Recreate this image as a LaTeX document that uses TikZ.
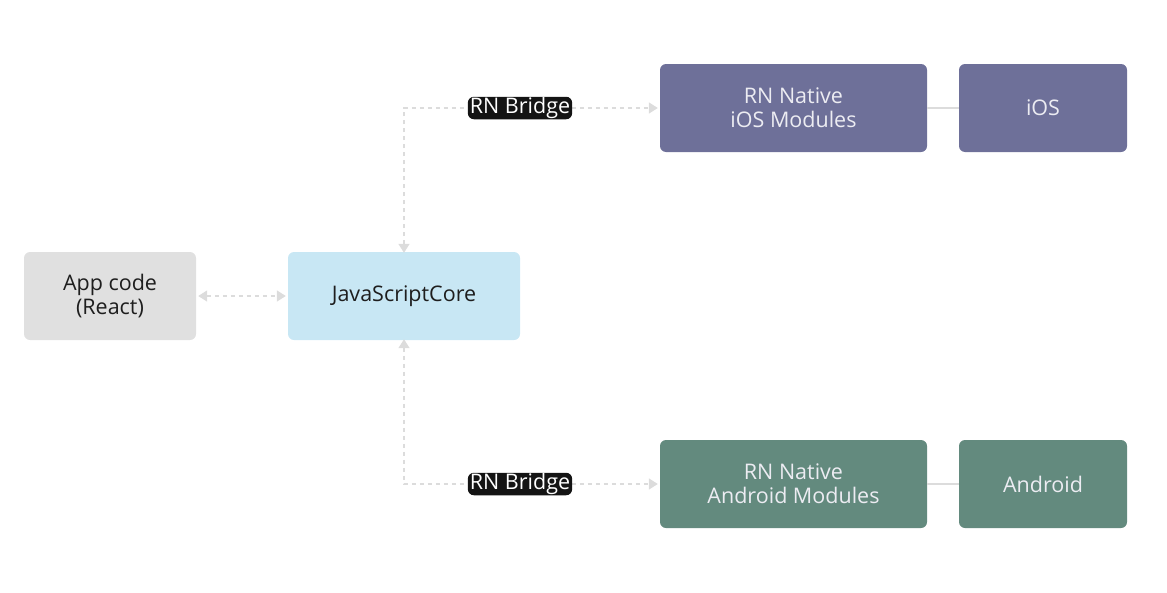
\documentclass[tikz,border=0pt]{standalone}
\usepackage{fontspec}
\setmainfont{Open Sans}
\usetikzlibrary{arrows.meta}
\definecolor{appgray}{HTML}{E0E0E0}
\definecolor{jsblue}{HTML}{C8E7F4}
\definecolor{iospurple}{HTML}{6E7099}
\definecolor{andgreen}{HTML}{638A7E}
\definecolor{linegray}{HTML}{DCDCDC}
\definecolor{lighttext}{HTML}{ECECF2}
\definecolor{darktext}{HTML}{1E1E1E}
\definecolor{bridgebg}{HTML}{141414}
\tikzset{
  box/.style={rounded corners=6pt, inner sep=0pt, align=center, font=\fontsize{21.5}{24}\selectfont},
  lightbox/.style={box, text=darktext},
  darkbox/.style={box, text=lighttext},
  dashline/.style={draw=linegray, line width=1.5pt, dash pattern=on 4pt off 4pt},
  tips/.style={{Triangle[length=9pt,width=11pt,color=linegray,fill=linegray]}-{Triangle[length=9pt,width=11pt,color=linegray,fill=linegray]}},
  bridge/.style={fill=bridgebg, text=white, rounded corners=6pt, inner xsep=2pt, inner ysep=0.5pt, font=\fontsize{21.5}{24}\selectfont},
  solidline/.style={draw=linegray, line width=1.5pt}
}
\begin{document}
\begin{tikzpicture}[x=1pt,y=-1pt]
\useasboundingbox (0,0) rectangle (1167,592);
\node[lightbox, fill=appgray, minimum width=172pt, minimum height=88pt] (app) at (110,296) {App code\\(React)};
\node[lightbox, fill=jsblue, minimum width=232pt, minimum height=88pt] (js) at (404,296) {JavaScriptCore};
\node[darkbox, fill=iospurple, minimum width=267pt, minimum height=88pt] (iosmod) at (793.5,108) {RN Native\\iOS Modules};
\node[darkbox, fill=iospurple, minimum width=168pt, minimum height=88pt] (ios) at (1043,108) {iOS};
\node[darkbox, fill=andgreen, minimum width=267pt, minimum height=88pt] (andmod) at (793.5,484) {RN Native\\Android Modules};
\node[darkbox, fill=andgreen, minimum width=168pt, minimum height=88pt] (and) at (1043,484) {Android};
\coordinate (c1) at (404,108);
\coordinate (c2) at (404,484);
\draw[solidline] (iosmod.east) -- (ios.west);
\draw[solidline] (andmod.east) -- (and.west);
\draw[dashline, tips] ([xshift=2pt]app.east) -- ([xshift=-2pt]js.west);
\draw[dashline, tips] ([yshift=-1pt]js.north) -- (c1) -- ([xshift=-2pt]iosmod.west);
\draw[dashline, tips] ([yshift=1pt]js.south) -- (c2) -- ([xshift=-2pt]andmod.west);
\node[bridge] (b1) at (520,108) {RN Bridge};
\node[bridge] (b2) at (520,484) {RN Bridge};
\end{tikzpicture}
\end{document}
